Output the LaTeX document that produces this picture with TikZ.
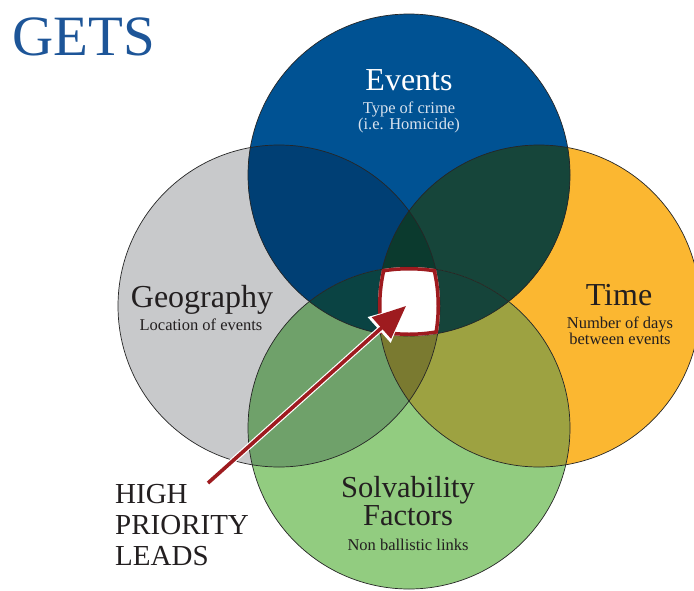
\documentclass[tikz,border=0pt]{standalone}
\usepackage{fontspec}
\setmainfont{Liberation Serif}
\usetikzlibrary{arrows.meta}
\definecolor{cblue}{HTML}{005293}
\definecolor{cgray}{HTML}{C8C9CB}
\definecolor{corange}{HTML}{FBB731}
\definecolor{cgreen}{HTML}{92CC80}
\definecolor{cBGy}{HTML}{003F74}
\definecolor{cBO}{HTML}{16453A}
\definecolor{cGyGn}{HTML}{6FA16A}
\definecolor{cOGn}{HTML}{9DA241}
\definecolor{cBGyO}{HTML}{0B3A2E}
\definecolor{cBGyGn}{HTML}{0A4343}
\definecolor{cBOGn}{HTML}{15443A}
\definecolor{cGyOGn}{HTML}{7A7A30}
\definecolor{cred}{HTML}{9E1B1F}
\definecolor{ctitle}{HTML}{1D5598}
\definecolor{cink}{HTML}{231F20}
\definecolor{clight}{HTML}{D8E2EE}
\def\Bc{(409,175) circle[radius=161pt]}
\def\Gyc{(279,306) circle[radius=161pt]}
\def\Oc{(539,306) circle[radius=161pt]}
\def\Gnc{(409,428) circle[radius=161pt]}
\tikzset{
  big/.style={font=\fontsize{32}{34}\selectfont, inner sep=0pt, anchor=base},
  small/.style={font=\fontsize{16.5}{17}\selectfont, inner sep=0pt, anchor=base},
  outline/.style={draw=black!85, line width=0.7pt},
  arr/.style={draw=cred, line width=3.6pt, -{Triangle[length=33pt,width=28pt]}, fill=cred},
  arrhalo/.style={draw=white, line width=6pt, -{Triangle[length=36pt,width=33pt]}, fill=white},
  hpl/.style={font=\fontsize{29}{31}\selectfont, text=cink, inner sep=0pt, anchor=base west}
}
\begin{document}
\begin{tikzpicture}[x=1pt,y=-1pt]
\useasboundingbox (0,0) rectangle (694,590);
\fill[white] (0,0) rectangle (694,590);
% single circles
\fill[cgray] \Gyc;
\fill[corange] \Oc;
\fill[cgreen] \Gnc;
\fill[cblue] \Bc;
% pairs
\begin{scope}\clip \Bc; \fill[cBGy] \Gyc; \end{scope}
\begin{scope}\clip \Bc; \fill[cBO] \Oc; \end{scope}
\begin{scope}\clip \Gyc; \fill[cGyGn] \Gnc; \end{scope}
\begin{scope}\clip \Oc; \fill[cOGn] \Gnc; \end{scope}
% triples
\begin{scope}\clip \Bc; \clip \Gyc; \fill[cBGyO] \Oc; \end{scope}
\begin{scope}\clip \Bc; \clip \Gyc; \fill[cBGyGn] \Gnc; \end{scope}
\begin{scope}\clip \Bc; \clip \Oc; \fill[cBOGn] \Gnc; \end{scope}
\begin{scope}\clip \Gyc; \clip \Oc; \fill[cGyOGn] \Gnc; \end{scope}
% outlines
\draw[outline] \Gyc;
\draw[outline] \Oc;
\draw[outline] \Gnc;
\draw[outline] \Bc;
% quadruple intersection
\begin{scope}
\clip \Bc; \clip \Gyc; \clip \Oc; \clip \Gnc;
\fill[white] (300,200) rectangle (520,400);
\draw[cred, line width=7pt] \Bc;
\draw[cred, line width=7pt] \Gyc;
\draw[cred, line width=7pt] \Oc;
\draw[cred, line width=7pt] \Gnc;
\end{scope}
% arrow
\coordinate (tail) at (208,483);
\coordinate (tip) at (406,306);
\draw[arrhalo] (tail) -- (tip);
\draw[arr] (tail) -- (tip);
% texts
\node[font=\fontsize{57}{60}\selectfont, text=ctitle, inner sep=0pt, anchor=base west] (gets) at (12,55) {GETS};
\node[big, text=white] (events) at (409,90) {Events};
\node[small, text=clight] (ev1) at (409,113) {Type of crime};
\node[small, text=clight] (ev2) at (409,129) {(i.e. Homicide)};
\node[big, text=cink] (geo) at (202,307) {Geography};
\node[small, text=cink] (geo1) at (201,330) {Location of events};
\node[big, text=cink] (time) at (619,305) {Time};
\node[small, text=cink] (time1) at (620,328.5) {Number of days};
\node[small, text=cink] (time2) at (620,344.5) {between events};
\node[big, font=\fontsize{30.5}{31}\selectfont, text=cink] (solv) at (408,497) {Solvability};
\node[big, font=\fontsize{30.5}{31}\selectfont, text=cink] (fact) at (408,525) {Factors};
\node[small, text=cink] (solv1) at (408,550) {Non ballistic links};
\node[hpl] (hpl1) at (115,503) {HIGH};
\node[hpl] (hpl2) at (115,534) {PRIORITY};
\node[hpl] (hpl3) at (115,565) {LEADS};
\end{tikzpicture}
\end{document}
